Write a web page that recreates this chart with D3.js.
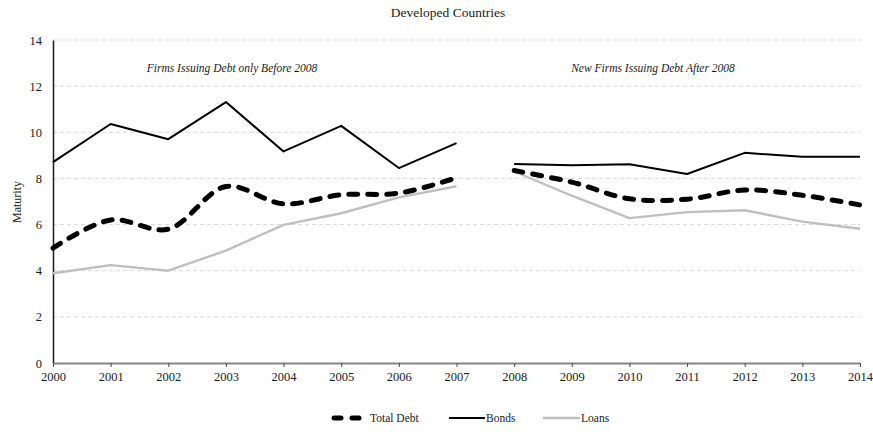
<!DOCTYPE html>
<html>
<head>
<meta charset="utf-8">
<script src="https://cdn.jsdelivr.net/npm/d3@7"></script>
<style>
  html, body { margin: 0; padding: 0; background: #fff; }
  svg { display: block; }
  svg text { font-family: "Liberation Serif", "Times New Roman", serif !important; fill: #1a1a1a; }
</style>
</head>
<body>
<svg id="chart" width="873" height="432"></svg>
<script>
// Average maturity (years) of debt issued by firms in developed countries
const years = [2000, 2001, 2002, 2003, 2004, 2005, 2006, 2007, 2008, 2009, 2010, 2011, 2012, 2013, 2014];
const totalDebt = [4.98, 6.20, 5.80, 7.65, 6.90, 7.29, 7.36, 8.03, 8.34, 7.84, 7.12, 7.10, 7.50, 7.27, 6.85];
const bonds     = [8.71, 10.36, 9.70, 11.31, 9.17, 10.28, 8.45, 9.53, 8.63, 8.57, 8.61, 8.19, 9.11, 8.94, 8.94];
const loans     = [3.89, 4.24, 4.00, 4.87, 5.99, 6.49, 7.18, 7.66, 8.30, 7.25, 6.28, 6.54, 6.62, 6.13, 5.82];
const yTicks = [0, 2, 4, 6, 8, 10, 12, 14];
const breakYear = 2008;
const periodLabels = ["Firms Issuing Debt only Before 2008", "New Firms Issuing Debt After 2008"];
const seriesNames = ["Total Debt", "Bonds", "Loans"];

const serif = "'Liberation Serif', 'Times New Roman', serif";
const svg = d3.select("#chart");
const plotLeft = 53, plotRight = 860, plotTop = 40, plotBottom = 363;

const x = d3.scaleLinear().domain([2000, 2014]).range([plotLeft, plotRight]);
const y = d3.scaleLinear().domain([0, 14]).range([plotBottom, plotTop]);

// horizontal gridlines
svg.append("g")
  .selectAll("line")
  .data(yTicks.filter(d => d > 0))
  .join("line")
  .attr("x1", plotLeft).attr("x2", plotRight)
  .attr("y1", d => y(d)).attr("y2", d => y(d))
  .attr("stroke", "#d9d9d9")
  .attr("stroke-width", 1)
  .attr("stroke-dasharray", "4,3");

// title
svg.append("text")
  .attr("x", 448).attr("y", 17)
  .attr("text-anchor", "middle")
  .attr("font-size", 13.5)
  .text("Developed Countries");

// period annotations
svg.append("text")
  .attr("x", 232).attr("y", 72)
  .attr("text-anchor", "middle")
  .attr("font-size", 11.5)
  .attr("font-style", "italic")
  .text(periodLabels[0]);
svg.append("text")
  .attr("x", 653).attr("y", 72)
  .attr("text-anchor", "middle")
  .attr("font-size", 11.5)
  .attr("font-style", "italic")
  .text(periodLabels[1]);

// y axis
const yAxis = svg.append("g")
  .attr("transform", `translate(${plotLeft},0)`)
  .call(d3.axisLeft(y).tickValues(yTicks).tickSize(0).tickPadding(11))
  .attr("font-family", serif)
  .attr("font-size", 12.5);
yAxis.select(".domain").attr("stroke", "#1a1a1a").attr("stroke-width", 1.5);
yAxis.selectAll("text").style("font-family", serif).attr("fill", "#1a1a1a");

// x axis
const xAxis = svg.append("g")
  .attr("transform", `translate(0,${plotBottom})`)
  .call(d3.axisBottom(x).tickValues(years).tickFormat(d3.format("d")).tickSizeInner(4).tickSizeOuter(0).tickPadding(5))
  .attr("font-family", serif)
  .attr("font-size", 12.5);
xAxis.select(".domain").attr("stroke", "#858585").attr("stroke-width", 2);
xAxis.selectAll(".tick line").attr("stroke", "#4d4d4d").attr("stroke-width", 1);
xAxis.selectAll("text").style("font-family", serif).attr("fill", "#1a1a1a");

// y axis title
svg.append("text")
  .attr("transform", "translate(21,202) rotate(-90)")
  .attr("text-anchor", "middle")
  .attr("font-size", 12)
  .text("Maturity");

// series, drawn separately for the two periods
const periods = [
  years.map((yr, i) => i).filter(i => years[i] < breakYear),
  years.map((yr, i) => i).filter(i => years[i] >= breakYear)
];

const styles = [
  { values: loans, color: "#bfbfbf", width: 2.4, dash: null, smooth: false },
  { values: bonds, color: "#000", width: 2, dash: null, smooth: false },
  { values: totalDebt, color: "#000", width: 5, dash: "9,10", smooth: true }
];

const plot = svg.append("g");
styles.forEach(s => {
  const line = d3.line()
    .x(i => x(years[i]))
    .y(i => y(s.values[i]))
    .curve(s.smooth ? d3.curveCatmullRom.alpha(0.5) : d3.curveLinear);
  periods.forEach(idx => {
    plot.append("path")
      .attr("d", line(idx))
      .attr("fill", "none")
      .attr("stroke", s.color)
      .attr("stroke-width", s.width)
      .attr("stroke-linecap", s.dash ? "round" : "butt")
      .attr("stroke-linejoin", "round")
      .attr("stroke-dasharray", s.dash);
  });
});

// legend
const legend = svg.append("g").attr("transform", "translate(0,418)");
const legendItems = [
  { name: seriesNames[0], x0: 334, x1: 361, color: "#000", width: 5, dash: "7,11", textX: 370 },
  { name: seriesNames[1], x0: 449, x1: 485, color: "#000", width: 2, dash: null, textX: 486 },
  { name: seriesNames[2], x0: 543, x1: 580, color: "#bfbfbf", width: 2.4, dash: null, textX: 581 }
];
legendItems.forEach(item => {
  legend.append("line")
    .attr("x1", item.x0).attr("x2", item.x1)
    .attr("y1", 0).attr("y2", 0)
    .attr("stroke", item.color)
    .attr("stroke-width", item.width)
    .attr("stroke-linecap", item.dash ? "round" : "butt")
    .attr("stroke-dasharray", item.dash);
  legend.append("text")
    .attr("x", item.textX).attr("y", 0)
    .attr("dy", "0.35em")
    .attr("font-size", 11.5)
    .text(item.name);
});
</script>
</body>
</html>
